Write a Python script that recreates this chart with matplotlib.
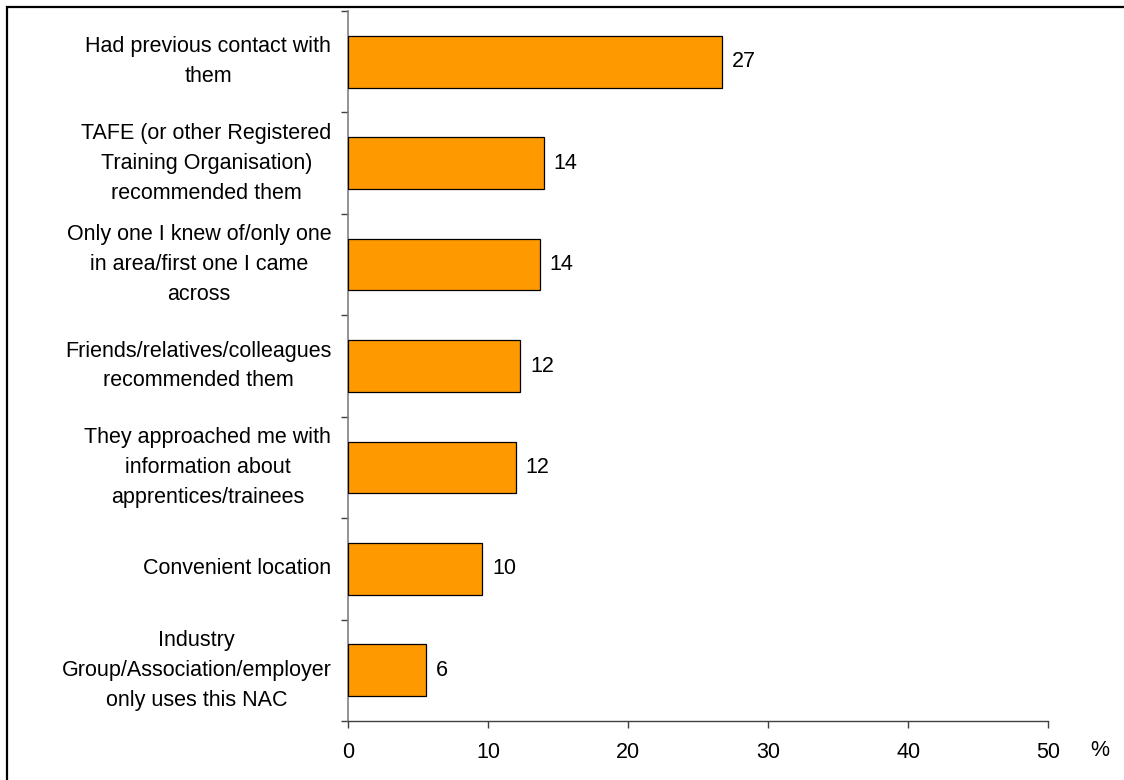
import matplotlib
matplotlib.use("Agg")
import matplotlib.pyplot as plt
from matplotlib.patches import Rectangle

# Reasons for choosing the centre (percentage of respondents)
categories = [
    "Had previous contact with\nthem",
    "TAFE (or other Registered\nTraining Organisation)\nrecommended them",
    "Only one I knew of/only one\nin area/first one I came\nacross",
    "Friends/relatives/colleagues\nrecommended them",
    "They approached me with\ninformation about\napprentices/trainees",
    "Convenient location",
    "Industry\nGroup/Association/employer\nonly uses this NAC",
]
percentages = [26.7, 14.0, 13.7, 12.3, 12.0, 9.6, 5.6]
x_ticks = [0, 10, 20, 30, 40, 50]

plt.rcParams["font.family"] = ["Liberation Sans", "DejaVu Sans"]
FS = 15.5

fig = plt.figure(figsize=(11.24, 7.8), dpi=100)
ax = fig.add_axes([0.3096, 0.0756, 0.6232, 0.9103])

positions = list(range(len(categories)))
ax.barh(positions, percentages, height=0.51, color="#FF9900",
        edgecolor="black", linewidth=0.9, zorder=3)

for y, v in zip(positions, percentages):
    ax.annotate(f"{v:.0f}", xy=(v, y), xytext=(7, 0), textcoords="offset points",
                ha="left", va="center", fontsize=FS, color="black")

ax.set_xlim(0, 50)
ax.set_ylim(len(categories) - 0.5, -0.5)

ax.set_xticks(x_ticks)
ax.set_xticklabels([str(t) for t in x_ticks], fontsize=FS)
ax.tick_params(axis="x", direction="out", length=5, width=1, color="#404040",
               pad=10)

ax.set_yticks(positions)
ax.set_yticklabels(categories, fontsize=FS, multialignment="center",
                   linespacing=1.56, va="center")
ax.tick_params(axis="y", which="major", length=0, pad=12)
ax.set_yticks([p + 0.5 for p in range(-1, len(categories))], minor=True)
ax.tick_params(axis="y", which="minor", direction="out", length=5, width=1,
               color="#404040")

for side in ("top", "right"):
    ax.spines[side].set_visible(False)
ax.spines["left"].set_color("#808080")
ax.spines["left"].set_linewidth(1.2)
ax.spines["bottom"].set_color("#404040")
ax.spines["bottom"].set_linewidth(1.0)

fig.text(1100 / 1124, 1 - 750 / 780, "%", ha="center", va="center", fontsize=FS)

# Outer frame around the chart area
fig.patches.append(Rectangle((7 / 1124, -0.05), 1.1, 1.05 - 7 / 780,
                             transform=fig.transFigure, fill=False,
                             edgecolor="black", linewidth=1.6, clip_on=False))

fig.savefig("out.png", dpi=100)
